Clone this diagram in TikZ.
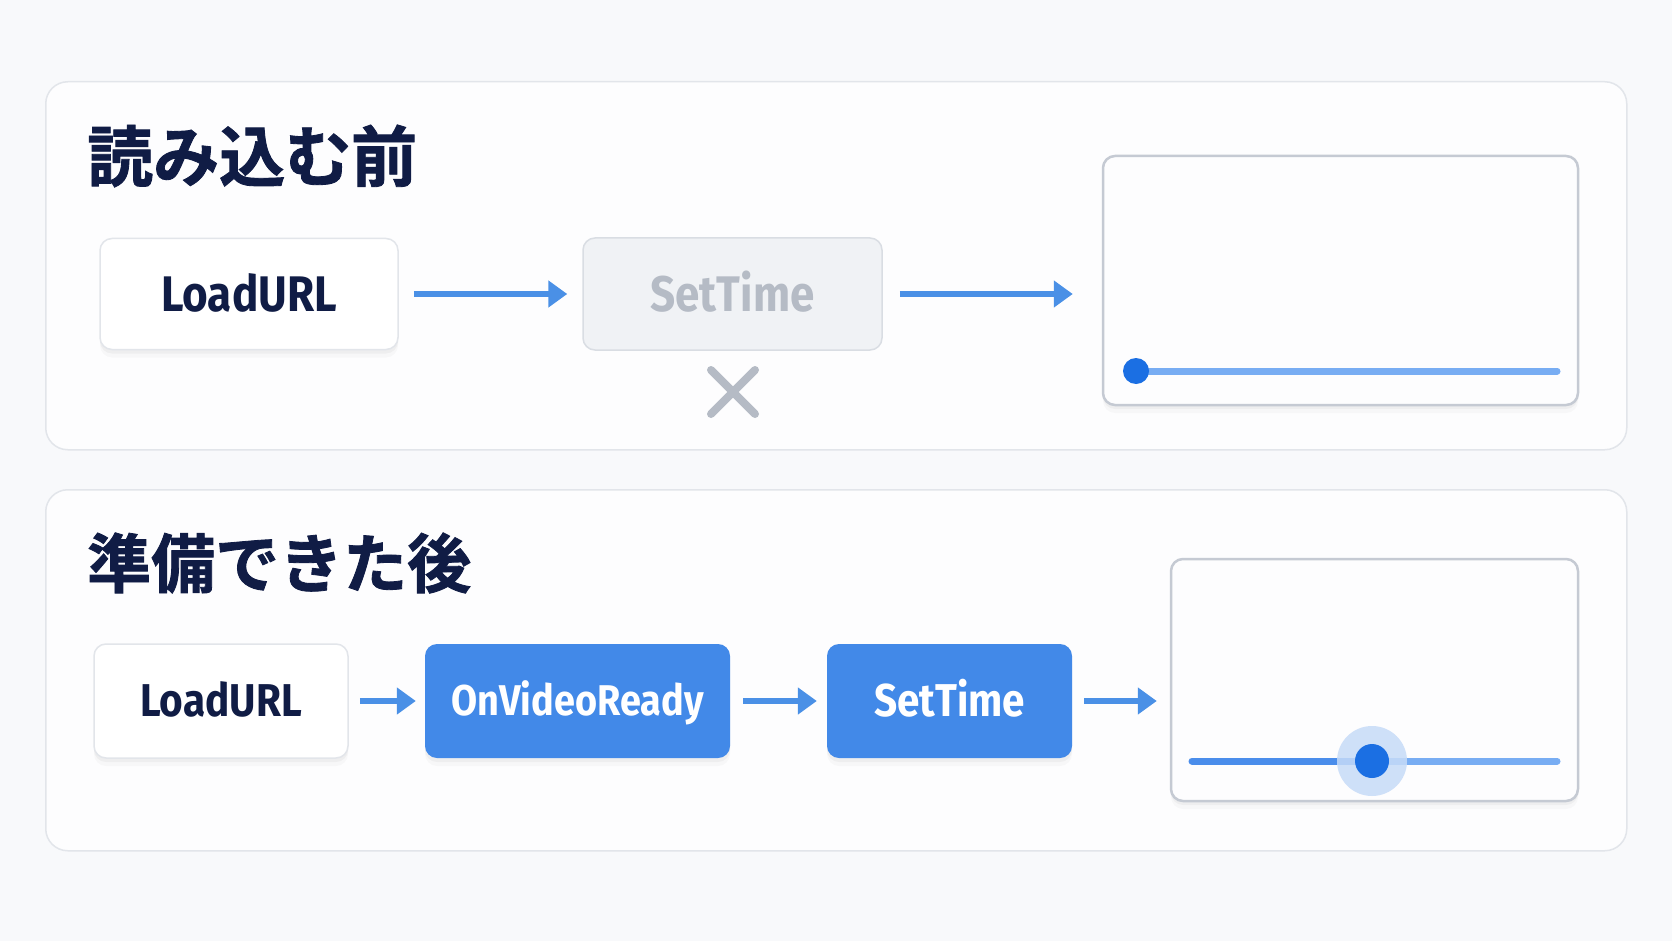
\documentclass[tikz,border=0pt]{standalone}
\usepackage{fontspec}
\usetikzlibrary{arrows.meta,shadows,calc}
\newfontfamily\cjkb[FakeBold=1.3]{Noto Sans CJK JP Bold}
\newfontfamily\lblfont[FakeStretch=0.88]{Fira Sans Bold}
\definecolor{bgc}{HTML}{F8F9FB}
\definecolor{panelfill}{HTML}{FDFDFE}
\definecolor{panelline}{HTML}{E2E5EA}
\definecolor{navy}{HTML}{101C45}
\definecolor{bluebox}{HTML}{4289E8}
\definecolor{arrowc}{HTML}{4A90E6}
\definecolor{knob}{HTML}{1B6FE3}
\definecolor{track}{HTML}{78ADF3}
\definecolor{trackd}{HTML}{4A8DEB}
\definecolor{greyfill}{HTML}{F0F2F5}
\definecolor{greyline}{HTML}{D9DDE3}
\definecolor{greytext}{HTML}{B5BBC5}
\definecolor{screenline}{HTML}{C5CAD3}
\begin{document}
\begin{tikzpicture}[x=1pt,y=-1pt,
  panel/.style={draw=panelline, line width=1.5pt, fill=panelfill, rounded corners=22pt},
  title/.style={anchor=west, inner sep=0pt, text=navy, font=\fontsize{64}{64}\cjkb},
  boxshadow/.style={general shadow={fill=black, opacity=0.025, shadow yshift=-8pt},
                    general shadow={fill=black, opacity=0.035, shadow yshift=-4pt}},
  lbl/.style={text height=#1, text depth=0pt},
  whitebox/.style={draw=panelline, line width=1.5pt, fill=white, rounded corners=12pt, inner sep=0pt, boxshadow, text=navy},
  greybox/.style={draw=greyline, line width=1.5pt, fill=greyfill, rounded corners=12pt, inner sep=0pt, text=greytext},
  bluebx/.style={draw=none, fill=bluebox, rounded corners=12pt, inner sep=0pt, text=white, boxshadow},
  screen/.style={draw=screenline, line width=2.5pt, fill=panelfill, rounded corners=12pt, inner sep=0pt, boxshadow},
  arr/.style={draw=arrowc, line width=5.5pt, -{Triangle[length=19pt,width=26pt]}},
]
\useasboundingbox (0,0) rectangle (1672,941);
\fill[bgc] (0,0) rectangle (1672,941);

% panels
\node[panel, minimum width=1581pt, minimum height=368pt, anchor=north west, inner sep=0pt] (p1) at (45,81) {};
\node[panel, minimum width=1581pt, minimum height=361pt, anchor=north west, inner sep=0pt] (p2) at (45,489) {};

% titles
\node[title, font=\fontsize{66}{66}\cjkb] (t1) at (87,156) {読み込む前};
\node[title] (t2) at (87,563) {準備できた後};

% row 1
\node[whitebox, lbl=34.5pt, minimum width=298pt, minimum height=111pt, font=\fontsize{50}{50}\lblfont] (lu1) at (249,294) {LoadURL};
\node[greybox, lbl=34.5pt, minimum width=299pt, minimum height=112pt, font=\fontsize{50}{50}\lblfont] (st1) at (732.5,294) {SetTime};
\node[screen, minimum width=475pt, minimum height=249pt] (sc1) at (1340.5,280.5) {};
\draw[arr, shorten <=15pt, shorten >=15pt] (lu1.east) -- (st1.west);
\draw[arr, shorten <=17pt, shorten >=29pt] (st1.east) -- (st1.east -| sc1.west);
% cross
\coordinate (xc) at (733,392);
\draw[greytext, line width=8pt, line cap=round] ($(xc)+(-22,-22)$) -- ($(xc)+(22,22)$);
\draw[greytext, line width=8pt, line cap=round] ($(xc)+(-22,22)$) -- ($(xc)+(22,-22)$);
% slider 1
\draw[track, line width=7pt, line cap=round] (1136,371) -- (1557,371);
\fill[knob] (1136,371) circle (13pt);

% row 2
\node[whitebox, lbl=31.7pt, minimum width=254pt, minimum height=114pt, font=\fontsize{46}{46}\lblfont] (lu2) at (221,701) {LoadURL};
\node[bluebx, lbl=29.6pt, minimum width=305pt, minimum height=114pt, font=\fontsize{43}{43}\lblfont] (ovr) at (577.5,701) {OnVideoReady};
\node[bluebx, lbl=31.7pt, minimum width=245pt, minimum height=114pt, font=\fontsize{46}{46}\lblfont] (st2) at (949.5,701) {SetTime};
\node[screen, minimum width=407pt, minimum height=242pt] (sc2) at (1374.5,680) {};
\draw[arr, shorten <=11pt, shorten >=9pt] (lu2.east) -- (ovr.west);
\draw[arr, shorten <=13pt, shorten >=10pt] (ovr.east) -- (st2.west);
\draw[arr, shorten <=12pt, shorten >=13pt] (st2.east) -- (st2.east -| sc2.west);
% slider 2
\draw[track, line width=7pt, line cap=round] (1372,761) -- (1557,761);
\draw[trackd, line width=7pt, line cap=round] (1192,761) -- (1372,761);
\fill[knob!25!white, opacity=0.85] (1372,761) circle (35pt);
\fill[knob] (1372,761) circle (17pt);
\end{tikzpicture}
\end{document}
